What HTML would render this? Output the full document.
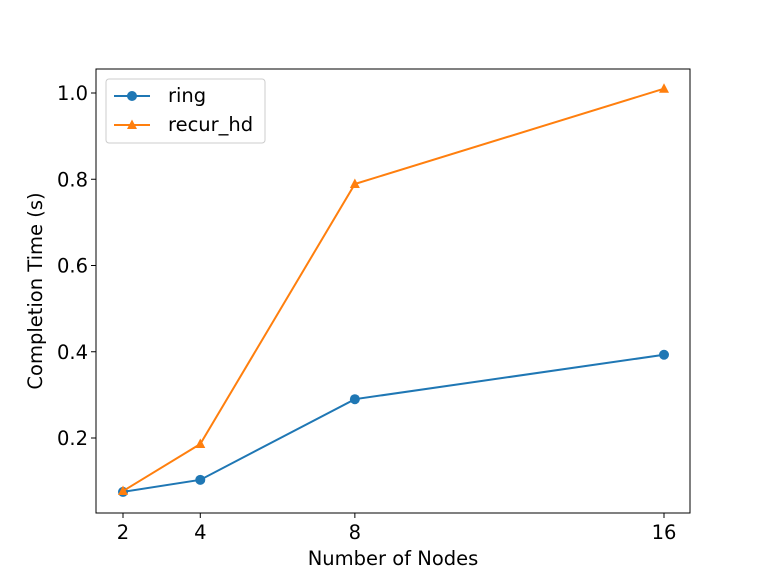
<!DOCTYPE html>
<html><head><meta charset="utf-8"><style>body{margin:0;background:#fff}svg{display:block;font-family:"DejaVu Sans","Liberation Sans",sans-serif}</style></head>
<body>
<svg id="chart" width="768" height="576">
<rect x="96" y="69" width="594" height="444" fill="#fff" stroke="#000" stroke-width="1"/>
<g id="ticks"></g>
<g id="series"></g>
<text x="393" y="565" font-size="19.5" text-anchor="middle">Number of Nodes</text>
<text transform="translate(42,291) rotate(-90)" font-size="19.5" text-anchor="middle">Completion Time (s)</text>
<g>
<rect x="106" y="79" width="159" height="64" rx="3" fill="#fff" stroke="#ccc"/>
<line x1="114" y1="96" x2="150" y2="96" stroke="#1f77b4" stroke-width="2"/>
<circle cx="132" cy="96" r="5" fill="#1f77b4"/>
<text x="168" y="102" font-size="19.5">ring</text>
<line x1="114" y1="125" x2="150" y2="125" stroke="#ff7f0e" stroke-width="2"/>
<polygon points="132,119.5 137,129 127,129" fill="#ff7f0e"/>
<text x="168" y="131" font-size="19.5">recur_hd</text>
</g>
</svg>
<script>
const categories=[2,4,8,16];
const ringValues=[0.075,0.103,0.290,0.393];
const recurValues=[0.077,0.186,0.789,1.010];
const yTicks=[0.2,0.4,0.6,0.8,1.0];
const xTickLabels=["2","4","8","16"];
const NS="http://www.w3.org/2000/svg";
function xs(v){return 123+(v-2)*(664-123)/14;}
function ys(v){return 438-(v-0.2)*431.25;}
const tg=document.getElementById('ticks'),sg=document.getElementById('series');
function mk(t,a,p){const e=document.createElementNS(NS,t);for(const k in a)e.setAttribute(k,a[k]);p.appendChild(e);return e;}
yTicks.forEach(v=>{const y=ys(v);
mk('line',{x1:91,x2:96,y1:y,y2:y,stroke:'#000'},tg);
const t=mk('text',{x:88,y:y+7,'font-size':19.5,'text-anchor':'end'},tg);t.textContent=v.toFixed(1);

});
categories.forEach((c,i)=>{const x=xs(c);
mk('line',{x1:x,x2:x,y1:513,y2:518,stroke:'#000'},tg);
const t=mk('text',{x:x,y:539,'font-size':19.5,'text-anchor':'middle'},tg);t.textContent=xTickLabels[i];

});
function series(vals,color,marker,name){
const pl=mk('polyline',{points:categories.map((c,i)=>xs(c)+','+ys(vals[i])).join(' '),fill:'none',stroke:color,'stroke-width':2},sg);


categories.forEach((c,i)=>{const x=xs(c),y=ys(vals[i]);let m;
if(marker==='o')m=mk('circle',{cx:x,cy:y,r:5,fill:color},sg);
else m=mk('polygon',{points:`${x},${y-5.5} ${x+5},${y+4} ${x-5},${y+4}`,fill:color},sg);

});}
series(ringValues,'#1f77b4','o','ring');
series(recurValues,'#ff7f0e','^','recur-hd');
</script>
</body></html>
